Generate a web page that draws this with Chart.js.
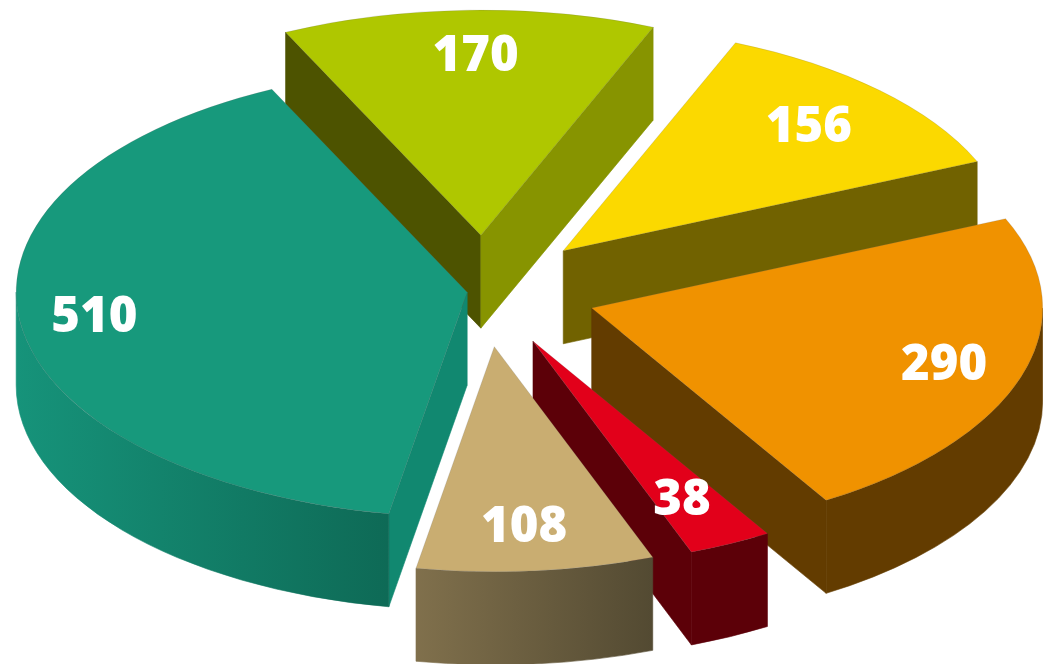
<!DOCTYPE html>
<html>
<head>
<meta charset="utf-8">
<style>
  html, body { margin: 0; background: #fff; }
  canvas { display: block; }
</style>
<script src="https://cdn.jsdelivr.net/npm/chart.js@4"></script>
</head>
<body>
<canvas id="pie" width="1043" height="664"></canvas>
<script>
const categories = ['A', 'B', 'C', 'D', 'E', 'F'];
const values = [510, 170, 156, 290, 38, 108];

// colours per slice: top face, radial walls, outer rim (left to right)
const topColors = ['#17997c', '#afc700', '#fbd900', '#f09200', '#e2001a', '#c9ad71'];
const startWall = ['#118870', '#4d5300', '#716200', '#633c00', '#5c0008', '#80704c'];
const endWall = ['#118870', '#879400', '#716200', '#633c00', '#5c0008', '#534a32'];
const rimLeft = ['#16937a', '#879400', '#716200', '#633c00', '#5c0008', '#80704c'];
const rimRight = ['#0e6a56', '#879400', '#716200', '#633c00', '#5c0008', '#534a32'];

// how far each slice is pulled out of the pie, and where its number sits along the radius
const explode = [17, 112, 113, 113, 112, 112];
const labelPos = [0.83, 0.81, 0.77, 0.82, 0.77, 0.79];
const labelDx = [-2, 5, 2, 0, -3, -3];
const labelDy = [0, 4, 1, 2, 4, 4];

const SQUASH = 0.499;
const DEPTH = 93;

function drawWall(ctx, x, y, px, py, color) {
    ctx.fillStyle = color;
    ctx.strokeStyle = color;
    ctx.lineWidth = 0.6;
    ctx.beginPath();
    ctx.moveTo(x, y);
    ctx.lineTo(px, py);
    ctx.lineTo(px, py + DEPTH);
    ctx.lineTo(x, y + DEPTH);
    ctx.closePath();
    ctx.fill();
    ctx.stroke();
}

function drawRim(ctx, x, y, r, a0, a1, left, right) {
    const g = ctx.createLinearGradient(x + r * Math.cos(a1), 0, x + r * Math.cos(a0), 0);
    g.addColorStop(0, left);
    g.addColorStop(1, right);
    ctx.fillStyle = g;
    ctx.strokeStyle = g;
    ctx.lineWidth = 0.6;
    ctx.beginPath();
    ctx.ellipse(x, y, r, r * SQUASH, 0, a0, a1);
    ctx.ellipse(x, y + DEPTH, r, r * SQUASH, 0, a1, a0, true);
    ctx.closePath();
    ctx.fill();
    ctx.stroke();
}

// the library lays out the arcs, this plugin extrudes and paints them
const pie3d = {
    id: 'pie3d',
    beforeDatasetDraw() {
        return false;
    },
    afterDatasetsDraw(chart) {
        const ctx = chart.ctx;
        const arcs = chart.getDatasetMeta(0).data;
        const slices = arcs.map((arc, i) => {
            const mid = (arc.startAngle + arc.endAngle) / 2;
            return {
                arc, i, mid,
                x: arc.x + Math.cos(mid) * explode[i],
                y: arc.y + Math.sin(mid) * explode[i] * SQUASH
            };
        });
        // back to front
        slices.slice().sort((a, b) => a.y - b.y).forEach(s => {
            const { arc, i, x, y } = s;
            const r = arc.outerRadius;
            const a0 = arc.startAngle, a1 = arc.endAngle;
            const sx = x + r * Math.cos(a0), sy = y + r * SQUASH * Math.sin(a0);
            const ex = x + r * Math.cos(a1), ey = y + r * SQUASH * Math.sin(a1);
            if (Math.sin(a0 - Math.PI / 2) > 0) drawWall(ctx, x, y, sx, sy, startWall[i]);
            if (Math.sin(a1 + Math.PI / 2) > 0) drawWall(ctx, x, y, ex, ey, endWall[i]);
            // only the part of the rim that faces down is visible
            for (let k = 0; k < 2; k++) {
                const from = Math.max(a0, k * 2 * Math.PI);
                const to = Math.min(a1, k * 2 * Math.PI + Math.PI);
                if (to > from) drawRim(ctx, x, y, r, from, to, rimLeft[i], rimRight[i]);
            }
            ctx.save();
            ctx.translate(x, y);
            ctx.scale(1, SQUASH);
            ctx.translate(-arc.x, -arc.y);
            arc.draw(ctx);
            ctx.restore();
        });
        // value labels
        ctx.fillStyle = '#fff';
        ctx.textAlign = 'center';
        ctx.textBaseline = 'middle';
        ctx.font = '800 49px "Open Sans"';
        slices.forEach(s => {
            const d = s.arc.outerRadius * labelPos[s.i];
            ctx.fillText(values[s.i], s.x + Math.cos(s.mid) * d + labelDx[s.i], s.y + Math.sin(s.mid) * d * SQUASH + labelDy[s.i]);
        });
    }
};

new Chart(document.getElementById('pie'), {
    type: 'pie',
    plugins: [pie3d],
    data: {
        labels: categories,
        datasets: [{
            data: values,
            backgroundColor: topColors,
            borderColor: 'rgba(100,100,100,0.35)',
            borderWidth: 0.7
        }]
    },
    options: {
        responsive: false,
        animation: false,
        radius: 451,
        rotation: 190,
        layout: { padding: { right: 75, bottom: 82 } },
        plugins: {
            legend: { display: false },
            tooltip: { enabled: false }
        }
    }
});
</script>
</body>
</html>
